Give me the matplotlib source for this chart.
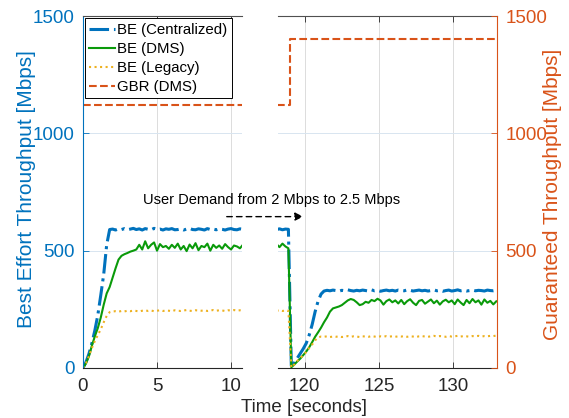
import matplotlib.pyplot as plt
import numpy as np

plt.rcParams['font.family'] = ['Liberation Sans', 'DejaVu Sans']

### data ###
# left panel: 0 .. 10.8 s, step 0.2
t_left = np.round(np.arange(0, 10.81, 0.2), 1)
be_cent_left = [0, 25, 60, 105, 160, 225, 310, 400, 525, 590,
                592, 588, 593, 590, 594, 589, 592, 595, 590, 593,
                588, 594, 591, 589, 595, 590, 592, 588, 593, 591,
                594, 589, 590, 593, 588, 592, 595, 590, 589, 593,
                591, 588, 594, 590, 592, 589, 593, 591, 588, 592,
                594, 590, 589, 593, 591]
be_dms_left = [0, 20, 50, 95, 135, 170, 215, 270, 318, 345,
               385, 425, 462, 478, 485, 490, 496, 500, 505, 525,
               505, 540, 510, 525, 535, 500, 528, 515, 520, 508,
               525, 512, 530, 505, 520, 498, 526, 510, 532, 502,
               520, 515, 530, 500, 525, 512, 522, 508, 528, 515,
               505, 522, 518, 510, 525]
be_leg_left = [0, 20, 50, 85, 115, 140, 165, 195, 222, 238,
               241, 242, 240, 243, 241, 244, 242, 245, 243, 241,
               244, 246, 243, 245, 242, 244, 246, 243, 245, 244,
               242, 246, 244, 243, 245, 247, 244, 243, 246, 245,
               244, 246, 243, 245, 247, 244, 246, 245, 243, 246,
               245, 247, 244, 246, 245]

# right panel: 118.1 .. 132.9 s, step 0.2
t_right = np.round(np.arange(118.1, 132.91, 0.2), 1)
be_cent_right = [590, 593, 589, 592, 591, 2, 22, 42, 62, 82,
                 105, 140, 185, 240, 285, 315, 328, 331, 329, 332,
                 330, 327, 331, 329, 333, 330, 328, 331, 329, 332,
                 330, 328, 333, 329, 331, 327, 330, 332, 329, 331,
                 328, 332, 330, 329, 333, 331, 328, 330, 332, 329,
                 331, 328, 330, 333, 329, 331, 327, 330, 332, 328,
                 330, 333, 329, 331, 328, 330, 332, 329, 331, 330,
                 328, 332, 330, 329, 331]
be_dms_right = [528, 515, 530, 518, 510, 3, 15, 28, 40, 55,
                70, 88, 110, 133, 152, 172, 195, 215, 240, 254,
                258, 262, 268, 278, 288, 294, 290, 280, 268, 272,
                282, 278, 290, 285, 295, 288, 270, 285, 292, 280,
                288, 275, 290, 272, 285, 293, 278, 268, 286, 290,
                274, 283, 292, 276, 287, 270, 284, 291, 280, 288,
                272, 292, 279, 268, 290, 276, 294, 280, 288, 270,
                292, 278, 286, 271, 284]
be_leg_right = [244, 246, 243, 245, 244, 2, 15, 30, 42, 55,
                68, 85, 100, 118, 130, 134, 133, 135, 132, 134,
                133, 135, 132, 134, 136, 133, 135, 134, 132, 135,
                134, 133, 136, 134, 132, 135, 133, 136, 134, 135,
                133, 135, 134, 136, 133, 135, 134, 132, 135, 136,
                134, 133, 135, 137, 134, 136, 135, 133, 136, 134,
                135, 137, 134, 136, 135, 133, 136, 135, 137, 134,
                136, 135, 137, 136, 138]

# guaranteed bit rate (right axis)
gbr_t_left = [0, 10.8]
gbr_left = [1120, 1120]
gbr_t_right = [118.1, 119.0, 119.0, 133.0]
gbr_right = [1120, 1120, 1400, 1400]

labels = ['BE (Centralized)', 'BE (DMS)', 'BE (Legacy)', 'GBR (DMS)']
c_blue, c_green, c_yellow, c_orange = '#0072BD', '#0A9A0A', '#EDB120', '#D95319'
c_axis = '#262626'

fig = plt.figure(figsize=(5.69, 4.18), dpi=100)
ax1 = fig.add_axes([83/569, 50/418, 159/569, 352/418])
ax2 = fig.add_axes([278/569, 50/418, 219/569, 352/418])
ax2r = ax2.twinx()
ax2.patch.set_visible(False) # so the arrow from ax1 stays visible

def draw(ax, t, cent, dms, leg):
  l1, = ax.plot(t, cent, color=c_blue, ls='-.', lw=2.2, label=labels[0])
  l2, = ax.plot(t, dms, color=c_green, ls='-', lw=1.5, label=labels[1])
  l3, = ax.plot(t, leg, color=c_yellow, ls=':', lw=1.5, label=labels[2])
  return [l1, l2, l3]

hs = draw(ax1, t_left, be_cent_left, be_dms_left, be_leg_left)
l4, = ax1.plot(gbr_t_left, gbr_left, color=c_orange, ls='--', lw=1.5, label=labels[3])
draw(ax2, t_right, be_cent_right, be_dms_right, be_leg_right)
ax2r.plot(gbr_t_right, gbr_right, color=c_orange, ls='--', lw=1.5)

ax1.set_xlim(0, 10.74)
ax2.set_xlim(118.2, 132.95)
for ax in (ax1, ax2, ax2r):
  ax.set_ylim(0, 1500)
ax1.set_xticks([0, 5, 10])
ax2.set_xticks([120, 125, 130])
ax1.set_yticks([0, 500, 1000, 1500])
ax2.set_yticks([0, 500, 1000, 1500])
ax2r.set_yticks([0, 500, 1000, 1500])

for ax in (ax1, ax2):
  ax.set_axisbelow(True)
  ax.xaxis.grid(True, color='#dcdcdc', lw=0.7)
  ax.yaxis.grid(True, color='#d8e5f0', lw=0.7)
  ax.spines['top'].set_color('#505050')
  ax.spines['bottom'].set_color(c_axis)
  for s in ('top', 'bottom'):
    ax.spines[s].set_linewidth(0.8)
  ax.tick_params(axis='x', direction='in', top=True, length=4, width=0.6,
                 colors=c_axis, labelsize=13.5, pad=7)

ax1.spines['right'].set_visible(False)
ax1.spines['left'].set_color(c_blue)
ax1.tick_params(axis='y', direction='in', length=4, width=0.6, colors=c_blue,
                labelsize=13.5, pad=6)

ax2.spines['left'].set_visible(False)
ax2.spines['right'].set_visible(False)
ax2.tick_params(axis='y', left=False, labelleft=False)

for s in ('left', 'top', 'bottom'):
  ax2r.spines[s].set_visible(False)
ax2r.spines['right'].set_color(c_orange)
ax2r.tick_params(axis='y', direction='in', length=4, width=0.6, colors=c_orange,
                 labelsize=13.5, pad=6)

leg = ax1.legend(handles=hs + [l4], loc='upper left', bbox_to_anchor=(0.012, 0.993),
                 borderaxespad=0, fancybox=False, edgecolor='black', framealpha=1,
                 fontsize=10.8, handlelength=1.7, handletextpad=0.15, borderpad=0.3,
                 labelspacing=0.33)
leg.get_frame().set_linewidth(0.7)
leg.set_zorder(10)

# annotation across the break
fig.text(272/569, 1 - 200/418, 'User Demand from 2 Mbps to 2.5 Mbps',
         ha='center', va='center', fontsize=10.5, color='black')
ax1.annotate('', xy=(119.9, 645), xycoords=ax2.transData,
             xytext=(9.71, 645), textcoords=ax1.transData, annotation_clip=False,
             arrowprops=dict(arrowstyle='-|>', linestyle=(0, (4, 3)), color='black',
                             lw=1, mutation_scale=12, shrinkA=0, shrinkB=0))

fig.text(27/569, 1 - 189/418, 'Best Effort Throughput [Mbps]', rotation=90,
         ha='center', va='center', fontsize=15, color=c_blue)
fig.text(553/569, 1 - 194/418, 'Guaranteed Throughput [Mbps]', rotation=90,
         ha='center', va='center', fontsize=15, color=c_orange)
fig.text(304/569, 1 - 412/418, 'Time [seconds]', ha='center', va='baseline',
         fontsize=13.5, color=c_axis)

fig.savefig('out.png', dpi=100)
